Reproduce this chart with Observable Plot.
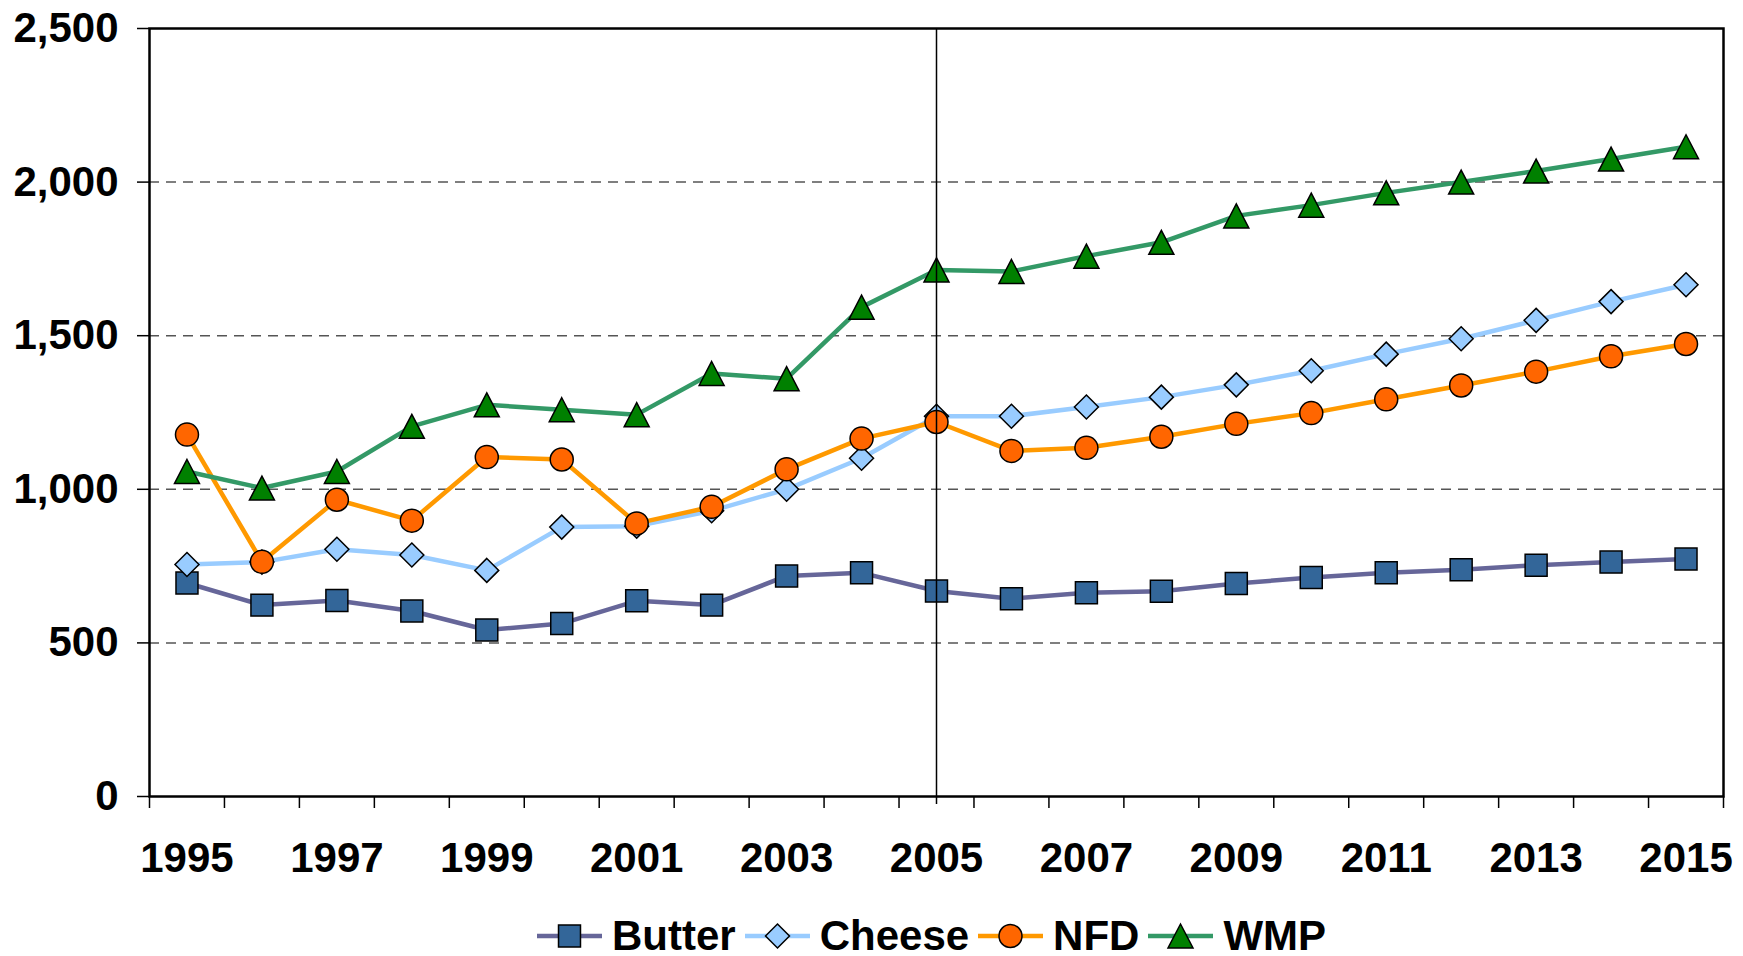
<!DOCTYPE html>
<html><head><meta charset="utf-8">
<script src="https://cdn.jsdelivr.net/npm/d3@7"></script>
<script src="https://cdn.jsdelivr.net/npm/@observablehq/plot@0.6"></script>
<style>
body{margin:0;background:#fff;font-family:"Liberation Sans",Arial,sans-serif;}
#legend{display:flex;align-items:center;height:44px;padding-top:14px;margin-left:537px;font-weight:bold;font-size:42px;color:#000;}
.item{display:flex;align-items:center;margin-right:9px;white-space:nowrap}
.item svg{margin-right:10px;overflow:visible}
</style></head><body><div id="chart"></div><div id="legend"></div>
<script>
const years = [1995,1996,1997,1998,1999,2000,2001,2002,2003,2004,2005,2006,2007,2008,2009,2010,2011,2012,2013,2014,2015];
const butter = [695,623,638,604,542,563,637,623,718,728,669,644,663,668,693,713,728,738,753,763,773];
const cheese = [755,763,805,786,736,877,880,930,1000,1101,1238,1238,1268,1300,1340,1386,1440,1490,1550,1611,1666];
const nfd = [1178,764,966,898,1105,1097,889,943,1065,1165,1219,1125,1135,1171,1213,1248,1293,1338,1383,1433,1473];
const wmp = [1058,1004,1058,1205,1275,1259,1243,1377,1360,1593,1714,1709,1759,1804,1890,1925,1965,2000,2036,2075,2115];
const seriesNames = ["Butter","Cheese","NFD","WMP"];
const seriesValues = [butter, cheese, nfd, wmp];
const lineColors = ["#666699","#99CCFF","#FF9900","#339966"];
const markerFills = ["#336699","#99CCFF","#FF6600","#008000"];
const yTicks = [0,500,1000,1500,2000,2500];
const gridValues = [500,1000,1500,2000];
const xLabelYears = [1995,1997,1999,2001,2003,2005,2007,2009,2011,2013,2015];
const dividerYear = 2005;

const triangleSym = {draw(ctx, size){const r=Math.sqrt(size/Math.PI);const hw=r*1.25,hh=r*1.2;ctx.moveTo(0,-hh);ctx.lineTo(hw,hh);ctx.lineTo(-hw,hh);ctx.closePath();}};
const symbols = ["square","diamond2","circle",triangleSym];
const radii = [12.4,10.8,11.5,10];

const rows = seriesNames.map((name,s)=>years.map((yr,i)=>({series:name, year:yr, value:seriesValues[s][i]})));
const boundaries = years.map(y=>y-0.5).concat([years[years.length-1]+0.5]);

const seriesMarks = rows.flatMap((data,s)=>[
  Plot.line(data,{x:"year",y:"value",stroke:lineColors[s],strokeWidth:4.5}),
  Plot.dot(data,{x:"year",y:"value",symbol:symbols[s],r:radii[s],fill:markerFills[s],stroke:"black",strokeWidth:1.5})
]);

const chart = Plot.plot({
  width:1743, height:900,
  marginLeft:149, marginRight:20, marginTop:28, marginBottom:104,
  x:{domain:[years[0]-0.5, years[years.length-1]+0.5]},
  y:{domain:[0,2500]},
  style:{fontFamily:"'Liberation Sans', Arial, sans-serif", fontWeight:"bold", color:"black", background:"white", overflow:"visible"},
  marks:[
    Plot.ruleY(gridValues,{stroke:"#555",strokeWidth:1.5,strokeDasharray:"10,7"}),
    ...seriesMarks,
    Plot.ruleX([dividerYear],{stroke:"black",strokeWidth:1.5,insetBottom:-8}),
    Plot.frame({stroke:"black",strokeWidth:2.5}),
    Plot.axisY(yTicks,{tickSize:12,tickPadding:19,tickFormat:d3.format(","),fontSize:42,fontWeight:"bold",strokeWidth:1.5,label:null}),
    Plot.axisX(boundaries,{tickSize:12,tickFormat:()=>"",strokeWidth:1.5,label:null}),
    Plot.axisX(xLabelYears,{tickSize:0,tickPadding:46,tickFormat:d=>String(d),fontSize:42,fontWeight:"bold",label:null})
  ]
});
document.getElementById("chart").appendChild(chart);

const legend = d3.select("#legend");
seriesNames.forEach((name,s)=>{
  const item = legend.append("div").attr("class","item");
  const svg = item.append("svg").attr("width",65).attr("height",30);
  svg.append("line").attr("x1",0).attr("x2",65).attr("y1",15).attr("y2",15).attr("stroke",lineColors[s]).attr("stroke-width",4.5);
  const symType = s===0?d3.symbolSquare:s===1?d3.symbolDiamond2:s===2?d3.symbolCircle:triangleSym;
  svg.append("path").attr("transform","translate(32.5,15)").attr("d",d3.symbol(symType, Math.PI*radii[s]*radii[s])()).attr("fill",markerFills[s]).attr("stroke","black").attr("stroke-width",1.5);
  item.append("span").text(name);
});
</script></body></html>
